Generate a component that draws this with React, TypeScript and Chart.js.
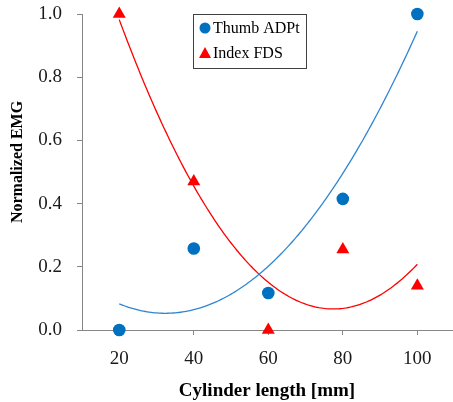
import { useEffect, useRef } from "react";
import { Chart, registerables } from "chart.js";

Chart.register(...registerables);

const cylinderLengths = [20, 40, 60, 80, 100];
const thumbADPt = [0, 0.258, 0.117, 0.415, 1.0];
const indexFDS = [1.0, 0.47, 0, 0.255, 0.14];
const xTickValues = [20, 40, 60, 80, 100];
const yTickValues = [0, 0.2, 0.4, 0.6, 0.8, 1.0];
const xAxisTitle = "Cylinder length [mm]";
const yAxisTitle = "Normalized EMG";

const BLUE = "#0070C0";
const BLUE_LINE = "#2F86D3";
const RED = "#FF0000";
const SERIF = "'Liberation Serif', 'DejaVu Serif', serif";

// Least-squares 2nd-order polynomial trendline (as Excel does)
function quadFit(xs: number[], ys: number[]) {
  let s0 = 0, s1 = 0, s2 = 0, s3 = 0, s4 = 0, t0 = 0, t1 = 0, t2 = 0;
  for (let i = 0; i < xs.length; i++) {
    const x = xs[i], y = ys[i];
    s0 += 1; s1 += x; s2 += x * x; s3 += x * x * x; s4 += x * x * x * x;
    t0 += y; t1 += x * y; t2 += x * x * y;
  }
  const m = [
    [s0, s1, s2, t0],
    [s1, s2, s3, t1],
    [s2, s3, s4, t2],
  ];
  for (let c = 0; c < 3; c++) {
    let p = c;
    for (let r = c + 1; r < 3; r++) if (Math.abs(m[r][c]) > Math.abs(m[p][c])) p = r;
    [m[c], m[p]] = [m[p], m[c]];
    for (let r = 0; r < 3; r++) {
      if (r === c) continue;
      const f = m[r][c] / m[c][c];
      for (let k = c; k < 4; k++) m[r][k] -= f * m[c][k];
    }
  }
  const a = m[0][3] / m[0][0], b = m[1][3] / m[1][1], cc = m[2][3] / m[2][2];
  return (x: number) => a + b * x + cc * x * x;
}

function trendPoints(xs: number[], ys: number[]) {
  const f = quadFit(xs, ys);
  const lo = Math.min(...xs), hi = Math.max(...xs);
  const pts: { x: number; y: number }[] = [];
  for (let x = lo; x <= hi + 1e-9; x += 0.5) pts.push({ x, y: f(x) });
  return pts;
}

const legendPlugin = {
  id: "customLegend",
  afterDraw(chart: any) {
    const ctx = chart.ctx;
    const area = chart.chartArea;
    ctx.save();
    // y-axis title
    ctx.translate(18, (area.top + area.bottom) / 2 - 10);
    ctx.rotate(-Math.PI / 2);
    ctx.font = `bold 16px ${SERIF}`;
    ctx.fillStyle = "#000";
    ctx.textAlign = "center";
    ctx.textBaseline = "middle";
    ctx.fillText(yAxisTitle, 0, 0);
    ctx.restore();

    ctx.save();
    ctx.strokeStyle = "#404040";
    ctx.lineWidth = 1;
    ctx.strokeRect(193.5, 14.5, 113, 54);
    ctx.font = `16px ${SERIF}`;
    ctx.fillStyle = "#000";
    ctx.textBaseline = "middle";
    ctx.textAlign = "left";
    // Thumb ADPt
    ctx.beginPath();
    ctx.arc(205, 28, 5.5, 0, Math.PI * 2);
    ctx.fillStyle = BLUE;
    ctx.fill();
    ctx.fillStyle = "#000";
    ctx.fillText("Thumb ADPt", 213, 29);
    // Index FDS
    ctx.beginPath();
    ctx.moveTo(205, 47);
    ctx.lineTo(211, 58);
    ctx.lineTo(199, 58);
    ctx.closePath();
    ctx.fillStyle = RED;
    ctx.fill();
    ctx.fillStyle = "#000";
    ctx.fillText("Index FDS", 213, 54);
    ctx.restore();
  },
};

function zeroPad(s: any) {
  s.paddingLeft = 0;
  s.paddingRight = 0;
  s.paddingTop = 0;
  s.paddingBottom = 0;
}

export default function App() {
  const ref = useRef<HTMLCanvasElement>(null);
  useEffect(() => {
    if (!ref.current) return;
    const chart = new Chart(ref.current, {
      type: "scatter",
      data: {
        datasets: [
          {
            label: "Thumb ADPt trend",
            data: trendPoints(cylinderLengths, thumbADPt),
            showLine: true,
            borderColor: BLUE_LINE,
            borderWidth: 1.3,
            pointRadius: 0,
            tension: 0,
            clip: false,
          },
          {
            label: "Index FDS trend",
            data: trendPoints(cylinderLengths, indexFDS),
            showLine: true,
            borderColor: RED,
            borderWidth: 1.3,
            pointRadius: 0,
            tension: 0,
            clip: false,
          },
          {
            label: "Thumb ADPt",
            data: cylinderLengths.map((x, i) => ({ x, y: thumbADPt[i] })),
            backgroundColor: BLUE,
            borderColor: BLUE,
            pointStyle: "circle",
            pointRadius: 6.3,
            borderWidth: 0,
            clip: false,
          },
          {
            label: "Index FDS",
            data: cylinderLengths.map((x, i) => ({ x, y: indexFDS[i] })),
            backgroundColor: RED,
            borderColor: RED,
            pointStyle: "triangle",
            pointRadius: 7.5,
            borderWidth: 0,
            clip: false,
          },
        ],
      },
      options: {
        animation: false,
        responsive: false,
        devicePixelRatio: 1,
        layout: { autoPadding: false, padding: { top: 14, right: 1, left: 0, bottom: 0 } },
        plugins: { legend: { display: false }, tooltip: { enabled: false } },
        scales: {
          x: {
            type: "linear",
            min: 10,
            max: 109.3,
            afterBuildTicks: (s: any) => {
              s.ticks = xTickValues.map((v) => ({ value: v }));
            },
            afterFit: (s: any) => {
              s.height = 72;
              zeroPad(s);
            },
            border: { color: "#868686", width: 1 },
            grid: { drawOnChartArea: false, tickLength: 5, color: "#868686" },
            ticks: {
              font: { family: SERIF, size: 19 },
              color: "#1a1a1a",
              padding: 13,
              maxRotation: 0,
              callback: (v: any) => String(v),
            },
            title: {
              display: true,
              text: xAxisTitle,
              font: { family: SERIF, size: 19, weight: "bold" },
              color: "#000",
              padding: { top: 0, bottom: 0 },
            },
          },
          y: {
            type: "linear",
            min: 0,
            max: 1,
            afterBuildTicks: (s: any) => {
              s.ticks = yTickValues.map((v) => ({ value: v }));
            },
            afterFit: (s: any) => {
              s.width = 82;
              zeroPad(s);
            },
            border: { color: "#868686", width: 1 },
            grid: { drawOnChartArea: false, tickLength: 5, color: "#868686" },
            ticks: {
              font: { family: SERIF, size: 19 },
              color: "#1a1a1a",
              padding: 15,
              callback: (v: any) => Number(v).toFixed(1),
            },
            title: { display: false },
          },
        },
      },
      plugins: [legendPlugin],
    });
    return () => chart.destroy();
  }, []);
  return (
    <div style={{ position: "absolute", left: 0, top: 0, width: 453, height: 402, background: "#fff" }}>
      <canvas ref={ref} width={453} height={402} style={{ width: 453, height: 402 }} />
    </div>
  );
}
